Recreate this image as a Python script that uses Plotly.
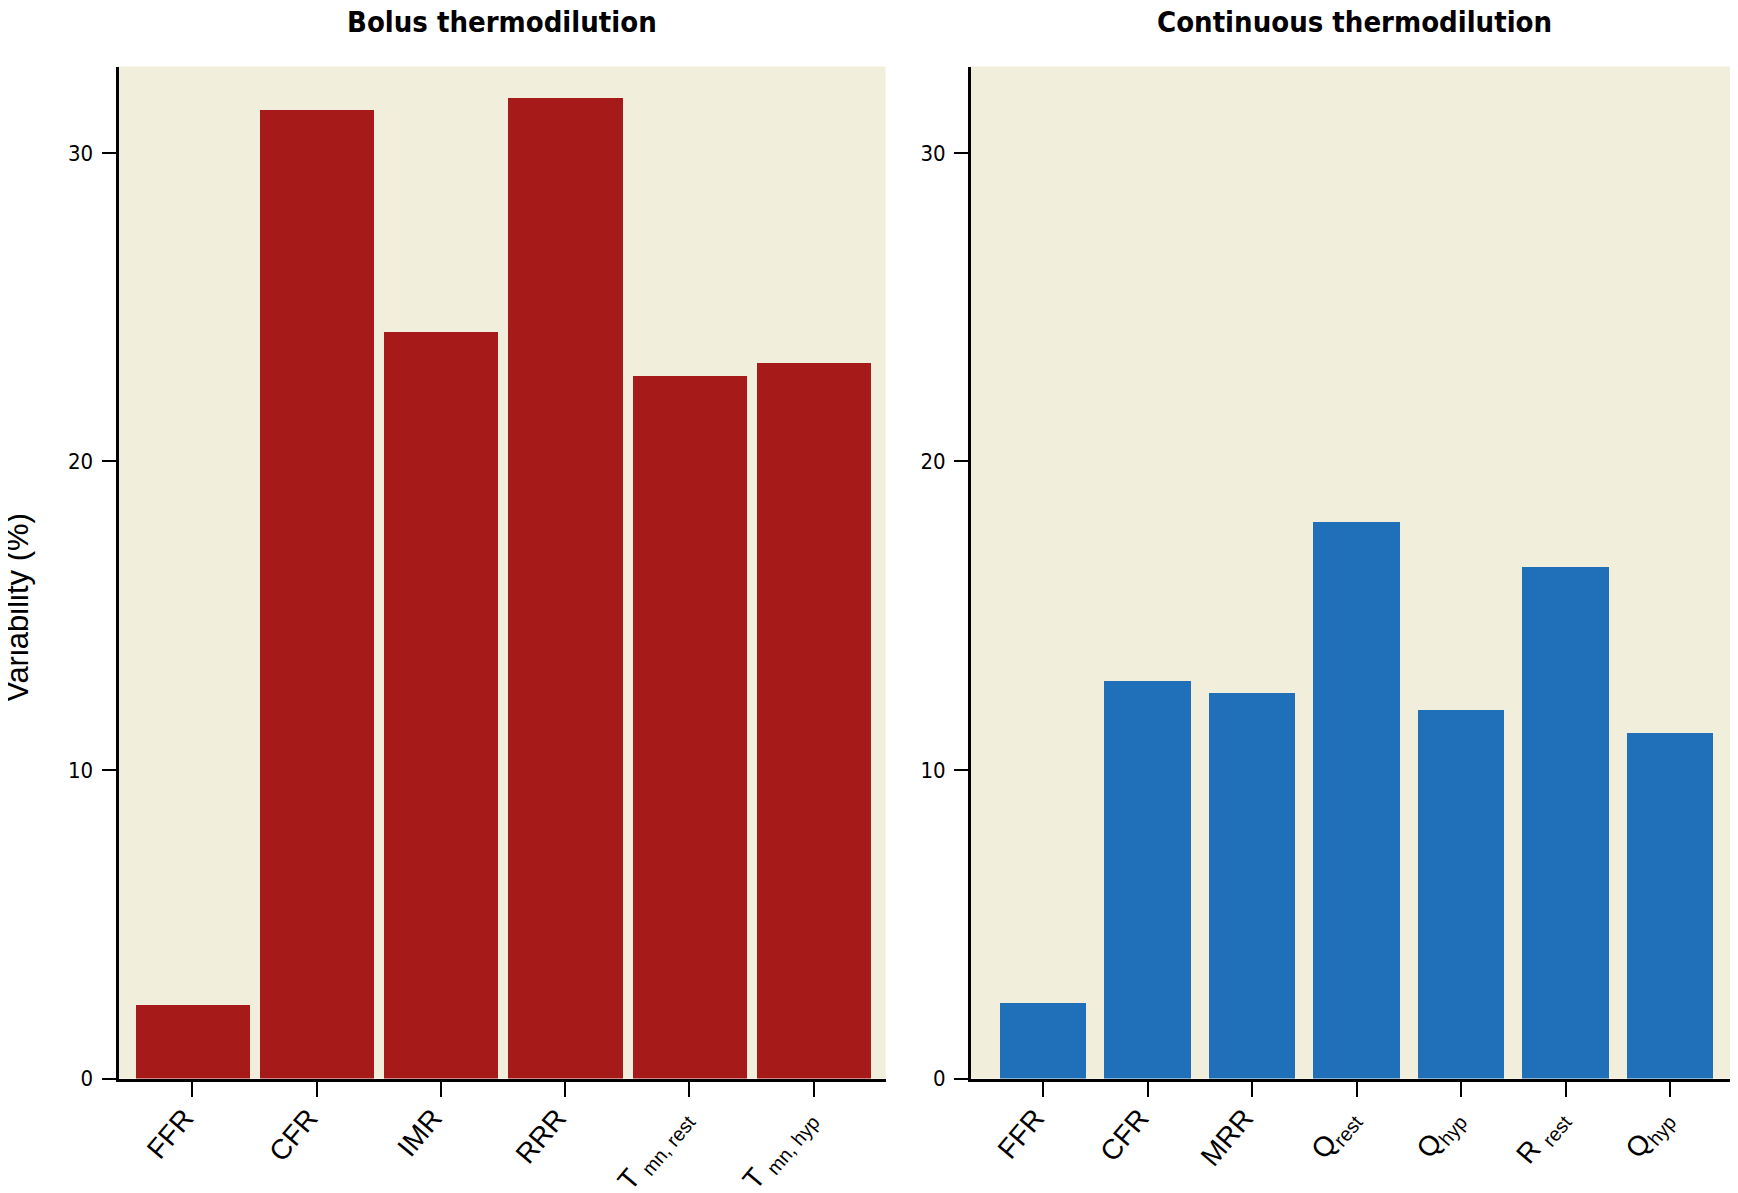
import plotly.graph_objects as go

# ---- data ----
bolus_labels = ["FFR", "CFR", "IMR", "RRR",
                "T <sub>mn, rest</sub>",
                "T <sub>mn, hyp</sub>"]
bolus_values = [2.4, 31.4, 24.2, 31.8, 22.8, 23.2]

cont_labels = ["FFR", "CFR", "MRR",
               "Q<sub>rest</sub>",
               "Q<sub>hyp</sub>",
               "R <sub>rest</sub>",
               "Q<sub>hyp</sub>"]
cont_values = [2.45, 12.9, 12.5, 18.05, 11.95, 16.6, 11.2]

y_ticks = [0, 10, 20, 30]
titles = ["Bolus thermodilution", "Continuous thermodilution"]
y_title = "Variability (%)"

RED = "#A61B19"
BLUE = "#1F70B8"
BG = "#F2EEDC"
NARROW = "DejaVu Sans Condensed, sans-serif"
SANS = "Liberation Sans, Arial, sans-serif"

W, H = 1738, 1193
OFF = 8  # page body margin
def fx(px):
    return (px - OFF) / W
def fy(py):
    return 1 - (py - OFF) / H

y_dom = [fy(1078.5), fy(66.5)]
x1_dom = [fx(118.6), fx(885.6)]
x2_dom = [fx(971), fx(1738)]

bx = list(range(len(bolus_values)))
cx = list(range(len(cont_values)))

fig = go.Figure()
fig.add_trace(go.Bar(x=bx, y=bolus_values, marker=dict(color=RED, line=dict(width=0)),
                     width=0.92, xaxis="x", yaxis="y", showlegend=False))
fig.add_trace(go.Bar(x=cx, y=cont_values, marker=dict(color=BLUE, line=dict(width=0)),
                     width=0.83, xaxis="x2", yaxis="y2", showlegend=False))

xcommon = dict(showgrid=False, zeroline=False, showline=True, linecolor="black", linewidth=3,
               ticks="outside", ticklen=15, tickwidth=2, tickcolor="black", automargin=False,
               tickangle=-50, tickfont=dict(family=SANS, size=28, color="black"),
               ticklabelshift=-8, ticklabelstandoff=-6)
ycommon = dict(range=[0, 32.8], showgrid=False, zeroline=False, showline=True, linecolor="black",
               linewidth=3, ticks="outside", ticklen=14, tickwidth=2, tickcolor="black",
               tickvals=y_ticks, ticktext=[str(v) for v in y_ticks], automargin=False,
               tickfont=dict(family=NARROW, size=22, color="black"), ticklabelstandoff=4)

fig.update_layout(
    width=W, height=H,
    margin=dict(l=0, r=0, t=0, b=0, autoexpand=False),
    paper_bgcolor="white", plot_bgcolor=BG,
    bargap=0,
    xaxis=dict(domain=x1_dom, range=[-0.593, 5.58], tickvals=bx, ticktext=bolus_labels,
               anchor="y", **xcommon),
    yaxis=dict(domain=y_dom, anchor="x", **ycommon),
    xaxis2=dict(domain=x2_dom, range=[-0.69, 6.65], tickvals=cx, ticktext=cont_labels,
                anchor="y2", **xcommon),
    yaxis2=dict(domain=y_dom, anchor="x2", **ycommon),
    annotations=[
        dict(text="<b>%s</b>" % titles[0], x=(x1_dom[0] + x1_dom[1]) / 2, y=fy(22),
             xref="paper", yref="paper", showarrow=False, xanchor="center", yanchor="middle",
             font=dict(family=NARROW, size=29, color="black")),
        dict(text="<b>%s</b>" % titles[1], x=(x2_dom[0] + x2_dom[1]) / 2, y=fy(22),
             xref="paper", yref="paper", showarrow=False, xanchor="center", yanchor="middle",
             font=dict(family=NARROW, size=29, color="black")),
        dict(text=y_title, x=fx(17), y=fy(608), xref="paper", yref="paper", showarrow=False,
             textangle=-90, xanchor="center", yanchor="middle",
             font=dict(family=SANS, size=31, color="black")),
    ],
)

fig.write_html("out.html")
